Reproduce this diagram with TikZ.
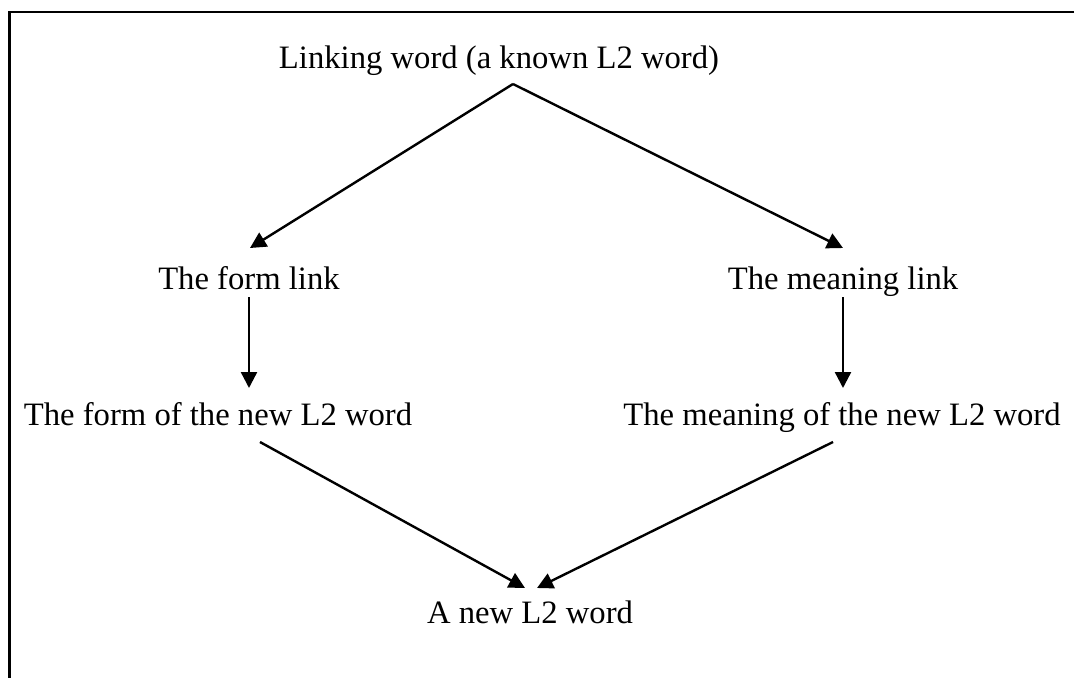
\documentclass[tikz,border=0pt]{standalone}
\usepackage{fontspec}
\setmainfont{Liberation Serif}
\usetikzlibrary{arrows.meta}
\begin{document}
\begin{tikzpicture}[x=0.75pt,y=-0.75pt,
  lbl/.style={inner sep=0pt,anchor=base,font=\fontsize{24.5}{29}\selectfont},
  link/.style={line width=1.8pt,-{Triangle[length=12pt,width=12pt]}},
  frameline/.style={line width=1.8pt}]
  \useasboundingbox (0,0) rectangle (1078,678);
  % partial frame: top and left edges
  \coordinate (fa) at (1074,12);
  \coordinate (fb) at (9.5,12);
  \coordinate (fc) at (9.5,678);
  \draw[frameline] (fa) -- (fb) -- (fc);

  % labels (placed by baseline)
  \node[lbl] (link)  at (499,68)  {Linking word (a known L2 word)};
  \node[lbl] (flink) at (249,289) {The form link};
  \node[lbl] (mlink) at (843,289) {The meaning link};
  \node[lbl] (fnew)  at (218,425) {The form of the new L2 word};
  \node[lbl] (mnew)  at (842,425) {The meaning of the new L2 word};
  \node[lbl] (word)  at (530,623) {A new L2 word};

  % connector end points
  \coordinate (apex) at (513,84);
  \coordinate (ftip) at (250,248);
  \coordinate (mtip) at (843,248);
  \coordinate (fs)   at (249,297);
  \coordinate (fe)   at (249,388);
  \coordinate (ms)   at (843,297);
  \coordinate (me)   at (843,388);
  \coordinate (fo)   at (260,442);
  \coordinate (mo)   at (833,442);
  \coordinate (wl)   at (525,588);
  \coordinate (wr)   at (537,588);

  \draw[link] (apex) -- (ftip);
  \draw[link] (apex) -- (mtip);
  \draw[link] (fs) -- (fe);
  \draw[link] (ms) -- (me);
  \draw[link] (fo) -- (wl);
  \draw[link] (mo) -- (wr);
\end{tikzpicture}
\end{document}
